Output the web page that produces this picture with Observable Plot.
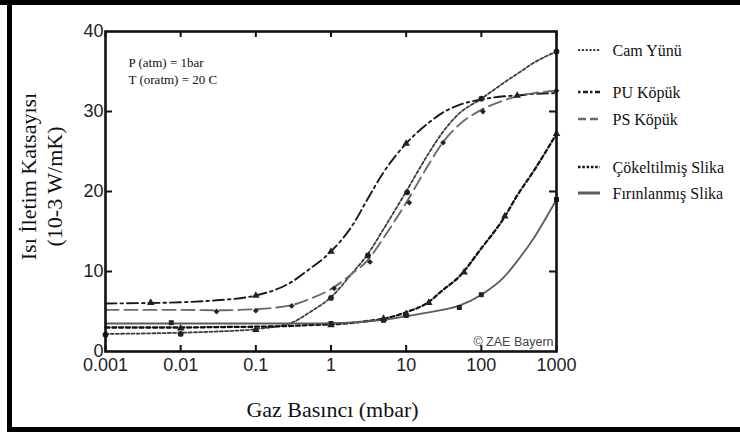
<!DOCTYPE html>
<html><head><meta charset="utf-8">
<script src="https://cdn.jsdelivr.net/npm/d3@7"></script>
<script src="https://cdn.jsdelivr.net/npm/@observablehq/plot@0.6"></script>
<style>
html,body{margin:0;padding:0;background:#fff;}
#wrap{position:relative;width:740px;height:434px;overflow:hidden;background:#fff;}
.bar{position:absolute;background:#000;}
</style></head><body>
<div id="wrap"></div>
<script>
// Gas pressure grid (mbar) at which the curves are read
const pressure = [0.001, 0.003, 0.01, 0.03, 0.1, 0.3, 0.5, 1, 2, 3, 5, 10, 20, 30, 50, 100, 200, 300, 500, 1000];
// Thermal conductivity (10^-3 W/mK)
const camY = [2.2, 2.25, 2.35, 2.5, 2.8, 3.6, 4.8, 6.8, 10.0, 12.0, 15.3, 20.0, 24.8, 27.3, 29.7, 31.6, 33.6, 34.7, 36.1, 37.5];
const puY  = [6.0, 6.05, 6.15, 6.4, 7.0, 8.7, 10.2, 12.5, 16.0, 18.9, 22.4, 26.0, 28.6, 29.8, 30.8, 31.5, 31.9, 32.0, 32.2, 32.3];
const psY  = [5.2, 5.2, 5.2, 5.15, 5.3, 5.8, 6.5, 7.8, 9.9, 11.3, 14.2, 18.6, 23.4, 26.0, 28.3, 30.2, 31.4, 31.9, 32.3, 32.6];
const cokY = [3.0, 3.0, 3.0, 3.05, 3.1, 3.2, 3.3, 3.4, 3.6, 3.8, 4.1, 4.9, 6.2, 7.6, 9.3, 12.9, 16.7, 19.5, 22.6, 27.2];
const firY = [3.5, 3.5, 3.5, 3.5, 3.5, 3.5, 3.52, 3.55, 3.65, 3.75, 3.95, 4.4, 4.9, 5.2, 5.7, 7.1, 9.3, 11.3, 14.2, 19.0];

// Measured points (markers)
const camMarkX = [0.001, 0.01, 1, 3.1, 10.3, 100, 1000];
const camMarkY = [2.1, 2.2, 6.7, 12.0, 19.9, 31.6, 37.5];
const puMarkX  = [0.004, 0.1, 1, 10, 300];
const puMarkY  = [6.1, 7.0, 12.5, 26.0, 32.0];
const psMarkX  = [0.03, 0.1, 0.3, 1.1, 3.3, 11, 31, 105, 1000];
const psMarkY  = [5.0, 5.1, 5.7, 7.9, 11.2, 18.6, 26.1, 30.0, 32.6];
const cokMarkX = [0.01, 0.1, 1, 5, 10, 20, 59, 205, 1000];
const cokMarkY = [2.9, 2.7, 3.3, 4.1, 4.7, 6.1, 9.9, 16.9, 27.2];
const firMarkX = [0.0075, 1, 5, 10, 51, 100, 1000];
const firMarkY = [3.6, 3.5, 3.9, 4.5, 5.5, 7.1, 19.0];

const seriesNames = ["Cam Yünü", "PU Köpük", "PS Köpük", "Çökeltilmiş Slika", "Fırınlanmış Slika"];
const xTicks = [0.001, 0.01, 0.1, 1, 10, 100, 1000];
const xTickLabels = ["0.001", "0.01", "0.1", "1", "10", "100", "1000"];
const yTicks = [0, 10, 20, 30, 40];
const innerYTicks = [10, 20, 30];
const xTitle = "Gaz Basıncı (mbar)";
const yTitle1 = "Isı İletim Katsayısı";
const yTitle2 = "(10-3 W/mK)";
const note1 = "P (atm) = 1bar";
const note2 = "T (oratm) = 20 C";
const credit = "© ZAE Bayern";

const styles = [
  {stroke: "#3c3c3c", strokeWidth: 1.8, dash: "3,2.2", symbol: "circle", r: 2.9},
  {stroke: "#1a1a1a", strokeWidth: 1.9, dash: "11,4,2.5,4", symbol: "triangle", r: 2.8},
  {stroke: "#6a6a6a", strokeWidth: 1.9, dash: "13,6", symbol: "diamond2", r: 2.6},
  {stroke: "#111111", strokeWidth: 2.3, dash: "4,2.8", symbol: "triangle", r: 2.8},
  {stroke: "#5c5c5c", strokeWidth: 1.8, dash: null, symbol: "square", r: 2.8}
];
const curveYs = [camY, puY, psY, cokY, firY];
const markXs = [camMarkX, puMarkX, psMarkX, cokMarkX, firMarkX];
const markYs = [camMarkY, puMarkY, psMarkY, cokMarkY, firMarkY];

const serif = "Liberation Serif";
const sans = "Liberation Sans";

const W = 740, H = 434, mL = 105, mR = 184, mT = 31, mB = 83;
const plotW = W - mL - mR, plotH = H - mT - mB;

const marks = [];
curveYs.forEach((ys, i) => {
  const s = styles[i];
  const rows = pressure.map((p, j) => ({p, k: ys[j]}));
  marks.push(Plot.line(rows, {x: "p", y: "k", curve: "monotone-x", stroke: s.stroke,
    strokeWidth: s.strokeWidth, strokeDasharray: s.dash || undefined}));
});
markXs.forEach((xs, i) => {
  const s = styles[i];
  const rows = xs.map((p, j) => ({p, k: markYs[i][j]}));
  marks.push(Plot.dot(rows, {x: "p", y: "k", symbol: s.symbol, r: s.r, fill: "#222", stroke: "none"}));
});

// Legend text (right of the frame)
const legendY = [50, 92, 119, 167, 193];
seriesNames.forEach((name, i) => {
  marks.push(Plot.text([name], {text: d => d, frameAnchor: "top-right", dx: 612 - (W - mR), dy: legendY[i] - mT,
    textAnchor: "start", lineAnchor: "middle", fontSize: 16, fontFamily: serif, fill: "#111"}));
});

marks.push(
  Plot.frame({stroke: "#111", strokeWidth: 2.6}),
  Plot.ruleX(xTicks, {x: d => d, insetTop: plotH - 6, stroke: "#111", strokeWidth: 2}),
  Plot.ruleX(xTicks, {x: d => d, insetBottom: plotH - 6, stroke: "#111", strokeWidth: 2}),
  Plot.ruleY(innerYTicks, {y: d => d, insetRight: plotW - 7, stroke: "#111", strokeWidth: 2}),
  Plot.ruleY(innerYTicks, {y: d => d, insetLeft: plotW - 7, stroke: "#111", strokeWidth: 2}),
  Plot.axisX(xTicks, {tickSize: 0, tickPadding: 7, tickFormat: (d) => xTickLabels[xTicks.indexOf(d)],
    fontSize: 18, fontFamily: sans, fill: "#222", label: null}),
  Plot.axisY(yTicks, {tickSize: 0, tickPadding: 2, fontSize: 18, fontFamily: sans, fill: "#222", label: null}),
  Plot.text([xTitle], {text: d => d, frameAnchor: "bottom", dx: 1.5, dy: 58, lineAnchor: "middle",
    fontSize: 22, fontFamily: serif, fill: "#111"}),
  Plot.text([yTitle1], {text: d => d, frameAnchor: "left", rotate: -90, dx: -77, dy: -15,
    textAnchor: "middle", lineAnchor: "middle", fontSize: 22, fontFamily: serif, fill: "#111"}),
  Plot.text([yTitle2], {text: d => d, frameAnchor: "left", rotate: -90, dx: -51, dy: -5,
    textAnchor: "middle", lineAnchor: "middle", fontSize: 22, fontFamily: serif, fill: "#111"}),
  Plot.text([note1], {text: d => d, frameAnchor: "top-left", dx: 23, dy: 31, textAnchor: "start",
    lineAnchor: "middle", fontSize: 13, fontFamily: serif, fill: "#111"}),
  Plot.text([note2], {text: d => d, frameAnchor: "top-left", dx: 23, dy: 48, textAnchor: "start",
    lineAnchor: "middle", fontSize: 13, fontFamily: serif, fill: "#111"}),
  Plot.text([credit], {text: d => d, frameAnchor: "bottom-right", dx: -3, dy: -10, textAnchor: "end",
    lineAnchor: "middle", fontSize: 12.5, fontFamily: sans, fill: "#444"})
);

const svg = Plot.plot({
  width: W, height: H,
  marginLeft: mL, marginRight: mR, marginTop: mT, marginBottom: mB,
  x: {type: "log", domain: [0.001, 1000], axis: null},
  y: {domain: [0, 40], axis: null},
  style: {background: "transparent", overflow: "visible"},
  marks
});
document.getElementById("wrap").appendChild(svg);

// Legend line samples
const legendDash = ["2.2,1.6", "2.5,2.5,5,2", "8,4", "2.5,1.8", null];
const legendWidth = [1.8, 2.6, 2.6, 2.4, 3];
const lg = d3.select(svg).append("g");
seriesNames.forEach((name, i) => {
  const y = legendY[i];
  const ln = lg.append("line").attr("x1", 578).attr("x2", 600).attr("y1", y).attr("y2", y)
    .attr("stroke", styles[i].stroke).attr("stroke-width", legendWidth[i]);
  if (legendDash[i]) ln.attr("stroke-dasharray", legendDash[i]);
});

// Black picture border
const wrap = document.getElementById("wrap");
[[0, 0, 740, 5], [7, 0, 5, 432], [7, 427, 733, 5]].forEach(([l, t, w, h]) => {
  const d = document.createElement("div");
  d.className = "bar";
  Object.assign(d.style, {left: l + "px", top: t + "px", width: w + "px", height: h + "px"});
  wrap.appendChild(d);
});
</script>
</body></html>
